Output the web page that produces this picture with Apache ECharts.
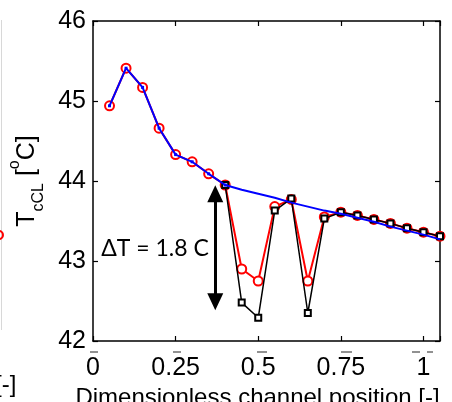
<!DOCTYPE html>
<html>
<head>
<meta charset="utf-8">
<script src="https://cdn.jsdelivr.net/npm/echarts@6/dist/echarts.min.js"></script>
<style>
html,body{margin:0;padding:0;background:#fff;}
#c{width:452px;height:402px;}
</style>
</head>
<body>
<div id="c"></div>
<script>
// ---- data ----
var xPos = [0.05, 0.10, 0.15, 0.20, 0.25, 0.30, 0.35, 0.40, 0.45, 0.50, 0.55, 0.60, 0.65, 0.70, 0.75, 0.80, 0.85, 0.90, 0.95, 1.00, 1.05];
var blueVals = [44.94, 45.41, 45.17, 44.66, 44.33, 44.24, 44.09, 43.95, 43.89, 43.84, 43.79, 43.73, 43.68, 43.63, 43.59, 43.54, 43.49, 43.43, 43.38, 43.33, 43.27];
var redVals = [44.94, 45.41, 45.17, 44.66, 44.33, 44.24, 44.09, 43.95, 42.90, 42.75, 43.68, 43.77, 42.75, 43.55, 43.61, 43.57, 43.52, 43.47, 43.41, 43.36, 43.31];
var blackVals = [null, null, null, null, null, null, null, 43.95, 42.48, 42.29, 43.63, 43.78, 42.35, 43.53, 43.61, 43.57, 43.52, 43.47, 43.41, 43.36, 43.31];
var blueMarkedCount = 8;
var xTicks = [0, 0.25, 0.5, 0.75, 1];
var yTicks = [42, 43, 44, 45, 46];
var arrowX = 0.37, arrowTop = 43.84, arrowBottom = 42.49;
var deltaText = 'ΔT = 1.8 C';
var deltaPos = [0.352, 43.16];

var chart = echarts.init(document.getElementById('c'), null, {renderer: 'canvas'});
var font = 'Liberation Sans, Arial, sans-serif';

function pairs(vals) {
  return xPos.map(function (x, i) { return [x, vals[i]]; });
}
var blueData = xPos.map(function (x, i) {
  return { value: [x, blueVals[i]], symbol: i < blueMarkedCount ? 'rect' : 'none' };
});

var axisLineStyle = { color: '#000', width: 1.5 };
function xAx(pos, labels) {
  return {
    type: 'value', position: pos, min: 0, max: 1.05, interval: 0.25,
    axisLine: { show: true, onZero: false, lineStyle: axisLineStyle },
    axisTick: { show: true, inside: true, length: 5, lineStyle: { color: '#000', width: 1.2 } },
    splitLine: { show: false },
    axisLabel: labels ? {
      show: true, color: '#000', fontSize: 25, fontFamily: font, margin: 15,
      formatter: function (v) { return xTicks.indexOf(+v.toFixed(2)) >= 0 ? String(+v.toFixed(2)) : ''; }
    } : { show: false }
  };
}
function yAx(pos, labels) {
  return {
    type: 'value', position: pos, min: 42, max: 46, interval: 1,
    axisLine: { show: true, onZero: false, lineStyle: axisLineStyle },
    axisTick: { show: true, inside: true, length: 5, lineStyle: { color: '#000', width: 1.2 } },
    splitLine: { show: false },
    axisLabel: labels ? {
      show: true, color: '#000', fontSize: 25, fontFamily: font, margin: 7,
      formatter: function (v) { return yTicks.indexOf(v) >= 0 ? String(v) : ''; }
    } : { show: false }
  };
}

var xBottom = xAx('bottom', true);
xBottom.name = 'Dimensionless channel position [-]';
xBottom.nameLocation = 'middle';
xBottom.nameGap = 41;
xBottom.nameTextStyle = { color: '#000', fontSize: 24, fontFamily: font, padding: [0, 18, 0, 0] };

var yLeft = yAx('left', true);
yLeft.name = '{t|T}{sub|cCL}{t| [}{sup|o}{t|C]}';
yLeft.nameLocation = 'middle';
yLeft.nameRotate = 90;
yLeft.nameGap = 46;
yLeft.nameTextStyle = {
  color: '#000', fontFamily: font,
  rich: {
    t: { fontSize: 25, fontFamily: font, color: '#000', lineHeight: 40, verticalAlign: 'middle' },
    sub: { fontSize: 16, fontFamily: font, color: '#000', lineHeight: 14, verticalAlign: 'bottom' },
    sup: { fontSize: 16, fontFamily: font, color: '#000', lineHeight: 26, verticalAlign: 'top' }
  }
};

var option = {
  animation: false,
  backgroundColor: '#fff',
  grid: { left: 93, right: 12, top: 21, bottom: 61, containLabel: false, outerBoundsMode: 'none' },
  xAxis: [xBottom, xAx('top', false)],
  yAxis: [yLeft, yAx('right', false)],
  graphic: [
    { type: 'line', shape: { x1: 1.5, y1: 20, x2: 1.5, y2: 330 }, style: { stroke: '#d8d8d8', lineWidth: 1 } },
    { type: 'circle', shape: { cx: -1, cy: 235, r: 4 }, style: { stroke: '#ff0000', fill: 'none', lineWidth: 2 } },
    { type: 'text', left: -5, top: 373, style: { text: '[-]', font: '24px ' + font, fill: '#000' } },
    { type: 'line', shape: { x1: 90, y1: 352, x2: 98, y2: 352 }, style: { stroke: '#555', lineWidth: 1.3 } },
    { type: 'line', shape: { x1: 173, y1: 352, x2: 181, y2: 352 }, style: { stroke: '#555', lineWidth: 1.3 } },
    { type: 'line', shape: { x1: 257, y1: 352, x2: 267, y2: 352 }, style: { stroke: '#555', lineWidth: 1.3 } },
    { type: 'line', shape: { x1: 341, y1: 352, x2: 352, y2: 352 }, style: { stroke: '#555', lineWidth: 1.3 } },
    { type: 'line', shape: { x1: 412, y1: 352, x2: 420, y2: 352 }, style: { stroke: '#555', lineWidth: 1.3 } },
    { type: 'line', shape: { x1: 427, y1: 352, x2: 433, y2: 352 }, style: { stroke: '#555', lineWidth: 1.3 } }
  ],
  series: [
    {
      name: 'red', type: 'line', data: pairs(redVals),
      symbol: 'emptyCircle', symbolSize: 9, showAllSymbol: true,
      lineStyle: { color: '#ff0000', width: 2 },
      itemStyle: { color: '#ff0000', borderColor: '#ff0000', borderWidth: 2 },
      z: 2
    },
    {
      name: 'black', type: 'line', data: pairs(blackVals),
      symbol: 'emptyRect', symbolSize: 6, showAllSymbol: true,
      lineStyle: { color: '#000', width: 1.5 },
      itemStyle: { color: '#000', borderColor: '#000', borderWidth: 1.2 },
      z: 3,
      markLine: {
        silent: true, symbol: ['triangle', 'triangle'], symbolSize: [16, 17],
        label: { show: false },
        lineStyle: { color: '#000', width: 3, type: 'solid' },
        data: [[{ coord: [arrowX, arrowTop] }, { coord: [arrowX, arrowBottom] }]]
      },
      markPoint: {
        silent: true, symbol: 'circle', symbolSize: 1,
        itemStyle: { color: 'rgba(0,0,0,0)' },
        label: { show: true, position: 'left', distance: 0, formatter: deltaText, color: '#000', fontSize: 23, fontFamily: 'Lato, Open Sans, sans-serif' },
        data: [{ coord: deltaPos }]
      }
    },
    {
      name: 'blue', type: 'line', data: blueData,
      symbolSize: 3, showAllSymbol: true,
      lineStyle: { color: '#0000ff', width: 2 },
      itemStyle: { color: '#0000ff' },
      z: 4
    }
  ]
};
chart.setOption(option);
</script>
</body>
</html>
